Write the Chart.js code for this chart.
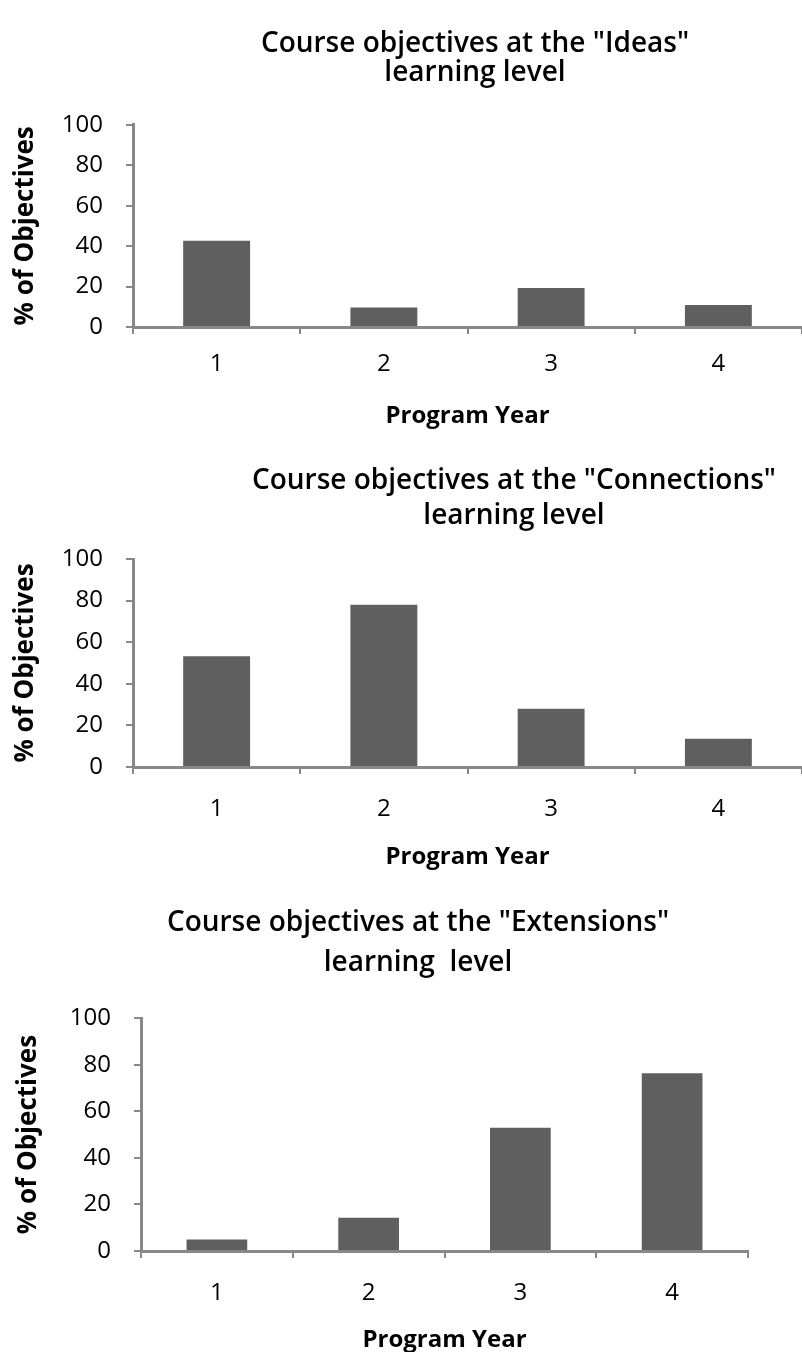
<!DOCTYPE html>
<html>
<head>
<meta charset="utf-8">
<script src="https://cdn.jsdelivr.net/npm/chart.js@4.4.1/dist/chart.umd.min.js"></script>
<style>
  html, body { margin: 0; padding: 0; background: #ffffff; width: 802px; height: 1352px; overflow: hidden; }
  .box { position: absolute; left: 0; }
</style>
</head>
<body>
<div class="box" id="b1" style="top:0px;width:950px;height:429px;"><canvas id="c1"></canvas></div>
<div class="box" id="b2" style="top:440px;width:1028px;height:430px;"><canvas id="c2"></canvas></div>
<div class="box" id="b3" style="top:880px;width:836px;height:473px;"><canvas id="c3"></canvas></div>
<script>
// ---- data ----
const years = ['1', '2', '3', '4'];
const ideasPct = [42.6, 9.6, 19.3, 10.9];
const connectionsPct = [53.2, 78.0, 28.0, 13.6];
const extensionsPct = [4.9, 14.3, 52.9, 76.3];
const yMin = 0, yMax = 100, yStep = 20;
const title1 = ['Course objectives at the "Ideas"', 'learning level'];
const title2 = ['Course objectives at the "Connections"', 'learning level'];
const title3 = ['Course objectives at the "Extensions"', 'learning  level'];
const xTitleText = 'Program Year';
const yTitleText = '% of Objectives';

// ---- styling ----
const BAR = '#5f5f5f';
const AXIS = '#888888';
const FONT = "'Open Sans', 'DejaVu Sans', sans-serif";

function makeChart(id, titleLines, values, p) {
  new Chart(document.getElementById(id), {
    type: 'bar',
    data: {
      labels: years,
      datasets: [{
        data: values,
        backgroundColor: BAR,
        borderWidth: 0,
        categoryPercentage: 1.0,
        barPercentage: 0.4
      }]
    },
    options: {
      responsive: true,
      maintainAspectRatio: false,
      animation: false,
      devicePixelRatio: 1,
      layout: { padding: 0, autoPadding: false },
      plugins: {
        legend: { display: false },
        tooltip: { enabled: false },
        title: {
          display: true,
          text: titleLines,
          color: '#000000',
          font: { family: FONT, size: 28, weight: '600', lineHeight: p.titleLH },
          padding: { top: p.titleTop, bottom: p.titleBottom }
        }
      },
      scales: {
        x: {
          type: 'category',
          offset: true,
          grid: { display: true, offset: true, drawOnChartArea: false, drawTicks: true, tickLength: 7, color: AXIS, lineWidth: 2 },
          border: { display: true, color: AXIS, width: 3 },
          ticks: { color: '#000000', padding: p.xTickPad, font: { family: FONT, size: 24, lineHeight: 1.2 } },
          title: { display: true, text: xTitleText, color: '#000000', padding: { top: 0, bottom: 0 }, font: { family: FONT, size: 24, weight: 'bold', lineHeight: 1.1 } },
          afterFit: (s) => { s.height = p.xH; }
        },
        y: {
          type: 'linear',
          position: 'left',
          min: yMin,
          max: yMax,
          grid: { display: true, drawOnChartArea: false, drawTicks: true, tickLength: 7, color: AXIS, lineWidth: 2 },
          border: { display: true, color: AXIS, width: 3 },
          ticks: { stepSize: yStep, color: '#000000', padding: 23, font: { family: FONT, size: 24, lineHeight: 1.2 } },
          title: { display: true, text: yTitleText, color: '#000000', padding: { top: p.yTitlePad, bottom: 0 }, font: { family: FONT, size: 26, weight: 'bold', lineHeight: 1.1 } },
          afterFit: (s) => { s.width = p.yW; }
        },
        spacer: {
          type: 'linear',
          position: 'right',
          display: true,
          grid: { display: false },
          border: { display: false },
          ticks: { display: false },
          afterFit: (s) => { s.width = p.rightW; }
        }
      }
    }
  });
}

makeChart('c1', title1, ideasPct, { titleLH: 1.05, titleTop: 29, titleBottom: 37, xTickPad: 16, xH: 102, yW: 133, yTitlePad: 11, rightW: 148 });
makeChart('c2', title2, connectionsPct, { titleLH: 1.25, titleTop: 24, titleBottom: 25, xTickPad: 21, xH: 103, yW: 133, yTitlePad: 11, rightW: 226 });
makeChart('c3', title3, extensionsPct, { titleLH: 1.43, titleTop: 23, titleBottom: 35, xTickPad: 21, xH: 102, yW: 141, yTitlePad: 14, rightW: 88 });
</script>
</body>
</html>
